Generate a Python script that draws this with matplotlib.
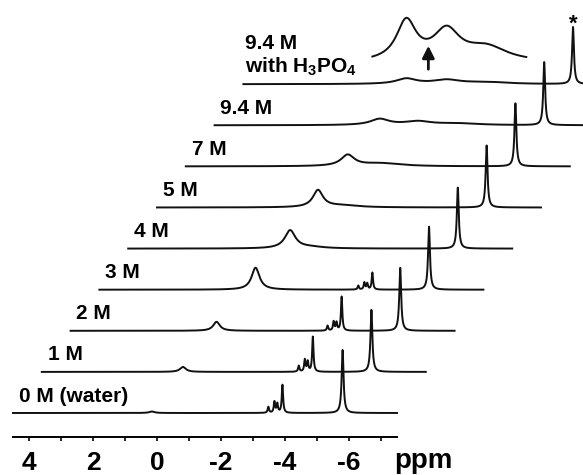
import numpy as np
import matplotlib
matplotlib.use("Agg")
import matplotlib.pyplot as plt

plt.rcParams['font.family'] = ['Liberation Sans', 'DejaVu Sans']
plt.rcParams['font.weight'] = 'bold'
plt.rcParams['mathtext.fontset'] = 'custom'
plt.rcParams['mathtext.rm'] = 'Liberation Sans:bold'
plt.rcParams['mathtext.bf'] = 'Liberation Sans:bold'
plt.rcParams['mathtext.default'] = 'bf'

# --- данные (ppm, высоты в произвольных единицах) ---
labels = ['0 M (water)', '1 M', '2 M', '3 M', '4 M', '5 M', '7 M', '9.4 M',
          '9.4 M\nwith H$_3$PO$_4$']

# широкий пик воды
broad_ppm = [0.16, 0.09, -0.06, -0.38, -0.56, -0.53, -0.56, -0.66, -0.59]
broad_height = [1.5, 5, 9, 22, 18, 17, 11, 6.0, 5.3]
broad_width = [0.20, 0.22, 0.25, 0.30, 0.40, 0.38, 0.50, 0.70, 0.75]

# хвост / второй широкий пик
tail_ppm = [0, 0, 0, 0, -1.2, -1.3, -1.6, -1.85, -1.85]
tail_height = [0, 0, 0, 0, 1.5, 2.0, 3.0, 3.6, 4.0]
tail_width = [1, 1, 1, 1, 1.0, 1.2, 1.5, 1.0, 1.0]

# третий широкий компонент
far_ppm = [0, 0, 0, 0, 0, 0, 0, -3.1, -3.1]
far_height = [0, 0, 0, 0, 0, 0, 0, 1.7, 1.9]
far_width = [1, 1, 1, 1, 1, 1, 1, 1.6, 1.6]

# мультиплет около -4 ppm
mult_center = [-3.92, -3.97, -3.97, -4.03, 0, 0, 0, 0, 0]
mult_offsets = [0.44, 0.25, 0.16, 0.0]
mult_heights = [[6, 11, 9, 28], [6, 12, 10, 35], [5, 9, 8, 34], [4, 7, 6, 17],
                [0, 0, 0, 0], [0, 0, 0, 0], [0, 0, 0, 0], [0, 0, 0, 0], [0, 0, 0, 0]]

# узкий пик
sharp_ppm = -5.80
sharp_height = [63, 62, 63, 63, 61, 62, 63, 63, 57]

ppm_ticks = [4, 2, 0, -2, -4, -6]

# --- геометрия стека ---
x_shift = 0.9      # сдвиг каждой следующей кривой, ppm
y_shift = 41.1     # вертикальный сдвиг
y_base = 24.0
ppm_left, ppm_right = 4.5, -7.5


def lorentz(x, x0, h, w):
    return h / (1.0 + ((x - x0) / (w / 2.0)) ** 2)


def spectrum(x, i):
    y = lorentz(x, broad_ppm[i], broad_height[i], broad_width[i])
    y += lorentz(x, tail_ppm[i], tail_height[i], tail_width[i])
    y += lorentz(x, far_ppm[i], far_height[i], far_width[i])
    for off, h in zip(mult_offsets, mult_heights[i]):
        y += lorentz(x, mult_center[i] + off, h, 0.05)
    y += lorentz(x, sharp_ppm, sharp_height[i], 0.07)
    return y


fig = plt.figure(figsize=(5.83, 4.75), dpi=100)
ax = fig.add_axes([0, 38 / 475, 1, 437 / 475])
ax.set_xlim(157 / 32, (157 - 583) / 32)
ax.set_ylim(0, 437)

x = np.linspace(ppm_left, ppm_right, 6000)
for i, lab in enumerate(labels):
    y = spectrum(x, i)
    base = y_base + i * y_shift
    ax.plot(x - i * x_shift, y + base, color='#111111', lw=1.4, clip_on=False)
    if i < len(labels) - 1:
        ax.text(ppm_left - i * x_shift - 0.18, base + 17, lab,
                fontsize=15, fontweight='bold', ha='left', va='center')
    else:
        ax.text(ppm_left - i * x_shift - 0.06, base + 28, lab,
                fontsize=15, fontweight='bold', ha='left', va='center',
                linespacing=1.15)

# вставка: увеличенный широкий участок спектра с H3PO4
n = len(labels) - 1
xi = np.linspace(0.47, -4.34, 800)
mag = 7.5
inset_base = 374
ax.plot(xi - n * x_shift, inset_base + mag * spectrum(xi, n), color='#111111',
        lw=1.4, clip_on=False)
ax.annotate('', xy=(-1.28 - n * x_shift, 437 - 43), xytext=(-1.28 - n * x_shift, 437 - 72),
            arrowprops=dict(arrowstyle='-|>', color='#111111', lw=2.0, mutation_scale=18),
            annotation_clip=False)
ax.text(sharp_ppm - n * x_shift, y_base + n * y_shift + sharp_height[n] + 3, '*',
        fontsize=16, fontweight='bold', ha='center', va='center')

# ось ppm
for s in ['top', 'right', 'left']:
    ax.spines[s].set_visible(False)
ax.spines['bottom'].set_bounds(ppm_left, ppm_right)
ax.spines['bottom'].set_linewidth(1.4)
ax.set_xticks(ppm_ticks)
ax.set_xticklabels([str(t) for t in ppm_ticks])
ax.set_xticks([3, 1, -1, -3, -5, -7], minor=True)
ax.tick_params(axis='x', which='major', direction='out', length=3, width=1.2,
               labelsize=19, pad=7)
ax.tick_params(axis='x', which='minor', direction='out', length=3, width=1.2)
for t in ax.get_xticklabels():
    t.set_fontweight('bold')
ax.set_yticks([])
fig.text(423 / 583, 1 - 461 / 475, 'ppm', fontsize=20, fontweight='bold',
         ha='center', va='center')

fig.savefig('out.png', dpi=100)
